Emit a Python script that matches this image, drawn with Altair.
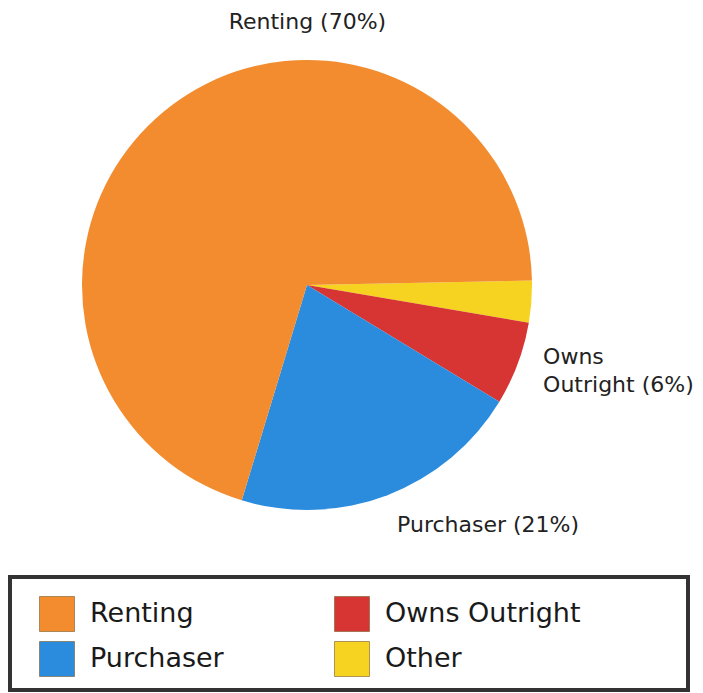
import math
import altair as alt
import pandas as pd

# ---- data ----
categories = ["Renting", "Purchaser", "Owns Outright", "Other"]
shares = [70, 21, 6, 3]
pie_labels = ["Renting (70%)", "Purchaser (21%)", "Owns\nOutright (6%)", ""]
colors = ["#F28C2E", "#2B8BDD", "#D63533", "#F5D320"]

# pie is drawn clockwise starting at 3 o'clock with Other, Owns Outright, Purchaser, Renting
pie_order = [3, 2, 1, 0]

df = pd.DataFrame({
    "category": categories,
    "share": shares,
    "label": pie_labels,
    "order": pie_order,
})
df = df.sort_values("order").reset_index(drop=True)
df["start"] = df["share"].cumsum() - df["share"]
df["end"] = df["share"].cumsum()
df["mid"] = (df["start"] + df["end"]) / 2

start_angle = math.pi / 2 - 0.02
theta_scale = alt.Scale(domain=[0, 100], range=[start_angle, start_angle + 2 * math.pi])
color_scale = alt.Scale(domain=categories, range=colors)

base = alt.Chart(df)

arcs = base.mark_arc(outerRadius=225, stroke=None).encode(
    theta=alt.Theta("start:Q", scale=theta_scale),
    theta2="end:Q",
    color=alt.Color("category:N", scale=color_scale, legend=None),
)

owns_label = base.transform_filter(
    "datum.category == 'Owns Outright'"
).mark_text(
    radius=252, align="left", baseline="middle", fontSize=22, dy=-16,
    font="DejaVu Sans", color="#222222", lineBreak="\n", lineHeight=28,
).encode(
    theta=alt.Theta("mid:Q", scale=theta_scale),
    text="label:N",
)

purch_label = base.transform_filter(
    "datum.category == 'Purchaser'"
).mark_text(
    radius=252, align="left", baseline="middle", fontSize=22, dy=5,
    font="DejaVu Sans", color="#222222",
).encode(
    theta=alt.Theta("mid:Q", scale=theta_scale),
    text="label:N",
)

top_label = base.transform_filter(
    "datum.category == 'Renting'"
).mark_text(
    radius=263, align="center", baseline="middle", fontSize=22,
    font="DejaVu Sans", color="#222222", thetaOffset=0.65,
).encode(
    theta=alt.Theta("mid:Q", scale=theta_scale),
    text="label:N",
)

pie = alt.layer(arcs, owns_label, purch_label, top_label).properties(width=594, height=554)

# ---- legend panel (2 columns x 2 rows) ----
leg = pd.DataFrame({"category": categories})
leg["col"] = [i // 2 for i in range(len(categories))]
leg["row"] = [i % 2 for i in range(len(categories))]

lx = alt.Scale(domain=[0, 1], range=[47, 342])
ly = alt.Scale(domain=[0, 1], range=[37, 82])

squares = alt.Chart(leg).mark_square(size=1225, opacity=1, stroke="#7a5a2a", strokeWidth=0.6).encode(
    x=alt.X("col:Q", scale=lx, axis=None),
    y=alt.Y("row:Q", scale=ly, axis=None),
    color=alt.Color("category:N", scale=color_scale, legend=None),
)
texts = alt.Chart(leg).mark_text(
    align="left", baseline="middle", dx=33, fontSize=27, font="DejaVu Sans", color="#1a1a1a",
).encode(
    x=alt.X("col:Q", scale=lx, axis=None),
    y=alt.Y("row:Q", scale=ly, axis=None),
    text="category:N",
)
legend_panel = alt.layer(squares, texts).properties(
    width=678, height=113,
    view=alt.ViewBackground(stroke="#333333", strokeWidth=4),
)

chart = alt.vconcat(pie, legend_panel, spacing=13).properties(
    padding=0, background="white"
).configure_view(stroke=None)

chart.save("out.html", embed_options={"renderer": "svg", "actions": False})
